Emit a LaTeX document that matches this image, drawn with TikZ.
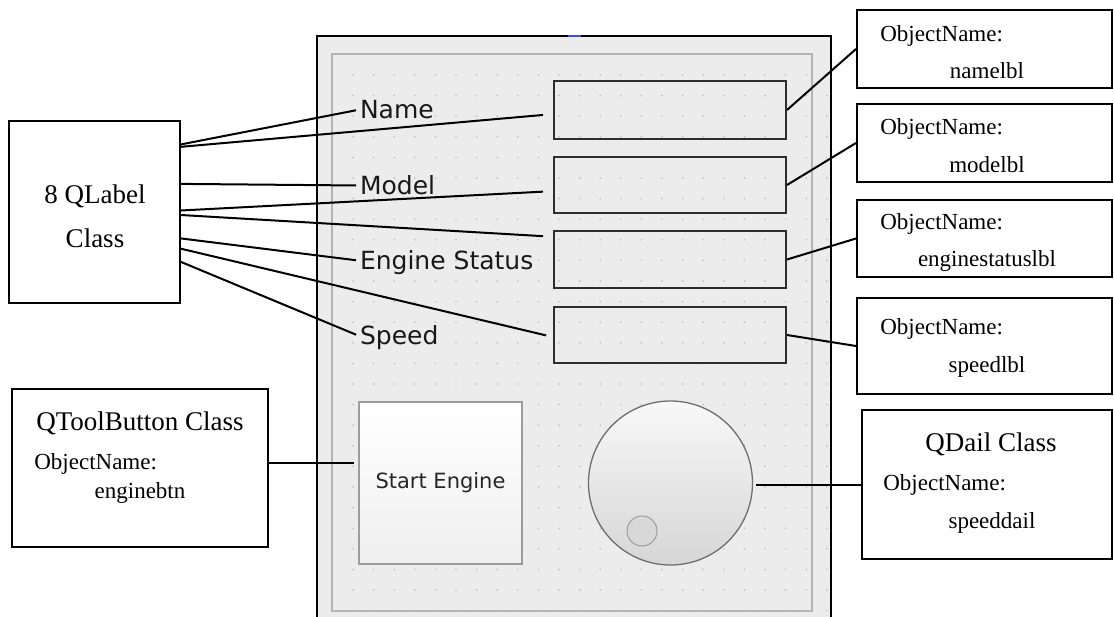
\documentclass[tikz,border=0pt]{standalone}
\usepackage{fontspec}
\setmainfont{Liberation Serif}
\newfontfamily\qtfont{DejaVu Sans}

\definecolor{formbg}{HTML}{ECECEC}
\definecolor{panelgray}{HTML}{B4B4B4}
\definecolor{dotgray}{HTML}{BDBDBD}
\definecolor{editgray}{HTML}{2E2E2E}
\definecolor{btngray}{HTML}{9C9C9C}
\definecolor{btnbottom}{HTML}{EFEFEF}
\definecolor{dialtop}{HTML}{F8F8F8}
\definecolor{dialbottom}{HTML}{D6D6D6}
\definecolor{dialedge}{HTML}{6E6E6E}
\definecolor{knobfill}{HTML}{D8D8D8}
\definecolor{knobedge}{HTML}{9E9E9E}
\definecolor{qtblue}{HTML}{3A50E0}

\begin{document}
\begin{tikzpicture}[
   x=1pt,
   y=-1pt,
   line width=2pt,
   infobox/.style={
      draw,
      inner sep=0pt,
      fill=white
   },
   title/.style={
      anchor=base,
      font=\fontsize{27}{32}\selectfont
   },
   objtext/.style={
      anchor=base,
      font=\fontsize{23}{27}\selectfont
   },
   qtlabel/.style={
      anchor=base west,
      inner sep=1pt,
      text depth=0pt,
      text=black!90,
      font=\qtfont\fontsize{25}{30}\selectfont
   },
   lineedit/.style={
      draw=editgray,
      inner sep=0pt,
      minimum width=232pt
   },
   wire/.style={
      line width=2pt
   }
]

   \useasboundingbox (0,0) rectangle (1114,617);

   % Form window
   \fill[formbg] (317,36) rectangle (831,620);
   \draw[line width=2.2pt] (317,620) -- (317,36) -- (831,36) -- (831,620);
   \draw[qtblue, line width=1.5pt] (568,36) -- (581,36);

   \draw[panelgray, line width=1.3pt] (332,54) rectangle (812,611);

   % Grid dots
   \foreach \i in {0,...,23}
      \foreach \j in {0,...,26}
         \fill[dotgray] (353+20.6*\i,75+20.6*\j) circle (0.9pt);

   % Line edits
   \node[lineedit, minimum height=58pt] (editname) at (670,110) {};
   \node[lineedit, minimum height=56pt] (editmodel) at (670,185) {};
   \node[lineedit, minimum height=57pt] (editstatus) at (670,259.5) {};
   \node[lineedit, minimum height=56pt] (editspeed) at (670,335) {};

   % Labels
   \node[qtlabel] (lblname) at (358,119) {Name};
   \node[qtlabel] (lblmodel) at (358,195) {Model};
   \node[qtlabel] (lblstatus) at (358,270) {Engine Status};
   \node[qtlabel] (lblspeed) at (358,345) {Speed};

   % Tool button
   \node[
      draw=btngray,
      line width=1.5pt,
      top color=white,
      bottom color=btnbottom,
      minimum width=163pt,
      minimum height=162pt,
      inner sep=0pt,
      text=black!85,
      font=\qtfont\fontsize{21}{25}\selectfont
   ] (startbtn) at (440.5,483)
   {
      Start Engine
   };

   % Dial
   \node[
      circle,
      draw=dialedge,
      line width=1.3pt,
      top color=dialtop,
      bottom color=dialbottom,
      minimum size=164pt,
      inner sep=0pt
   ] (dial) at (670.5,483) {};

   \node[
      circle,
      draw=knobedge,
      fill=knobfill,
      line width=1pt,
      minimum size=30pt,
      inner sep=0pt
   ] (knob) at (642,531) {};

   % QLabel class
   \node[infobox, minimum width=171pt, minimum height=182pt]
      (qlabelbox) at (94.5,212) {};

   \node[title] (qlabeltitle) at (95,204) {8 QLabel};
   \node[title] (qlabelclass) at (95,248) {Class};

   % QToolButton class
   \node[infobox, minimum width=256pt, minimum height=158pt]
      (toolbox) at (140,468) {};

   \node[title] (tooltitle) at (140,431) {QToolButton Class};
   \node[objtext, anchor=base west] (toolobj) at (30,469) {ObjectName:};
   \node[objtext] (toolname) at (140,498) {enginebtn};

   % Object names of the line edits
   \node[infobox, minimum width=255pt, minimum height=78pt]
      (objname) at (984.5,49) {};
   \node[objtext, anchor=base west] (objnamekey) at (876,42) {ObjectName:};
   \node[objtext] (objnameval) at (987,79) {namelbl};

   \node[infobox, minimum width=255pt, minimum height=78pt]
      (objmodel) at (984.5,143) {};
   \node[objtext, anchor=base west] (objmodelkey) at (876,135) {ObjectName:};
   \node[objtext] (objmodelval) at (987,173) {modelbl};

   \node[infobox, minimum width=255pt, minimum height=77pt]
      (objstatus) at (984.5,238.5) {};
   \node[objtext, anchor=base west] (objstatuskey) at (876,230) {ObjectName:};
   \node[objtext] (objstatusval) at (987,267) {enginestatuslbl};

   \node[infobox, minimum width=255pt, minimum height=96pt]
      (objspeed) at (984.5,346) {};
   \node[objtext, anchor=base west] (objspeedkey) at (876,335) {ObjectName:};
   \node[objtext] (objspeedval) at (987,373) {speedlbl};

   % QDail class
   \node[infobox, minimum width=250pt, minimum height=149pt]
      (dialbox) at (987,484.5) {};

   \node[title] (dialtitle) at (991,452) {QDail Class};
   \node[objtext, anchor=base west] (dialobj) at (879,490) {ObjectName:};
   \node[objtext] (dialname) at (992,528) {speeddail};

   % QLabel class to labels and line edits
   \draw[wire, shorten >=2pt] (qlabelbox.38) -- (lblname.west);
   \draw[wire, shorten >=10pt] (qlabelbox.37) -- (editname.182);
   \draw[wire, shorten >=2pt] (qlabelbox.18) -- (lblmodel.west);
   \draw[wire, shorten >=10pt] (qlabelbox.1) -- (editmodel.183);
   \draw[wire, shorten >=10pt] (qlabelbox.-2) -- (editstatus.169);
   \draw[wire, shorten >=2pt] (qlabelbox.-17.5) -- (lblstatus.west);
   \draw[wire, shorten >=7pt] (qlabelbox.-23.4) -- (editspeed.181);
   \draw[wire, shorten >=2pt] (qlabelbox.-30) -- (lblspeed.west);

   % Line edits to object names
   \draw[wire] (editname.east) -- (objname.west);
   \draw[wire] (editmodel.east) -- (objmodel.west);
   \draw[wire] (editstatus.east) -- (objstatus.west);
   \draw[wire] (editspeed.east) -- (objspeed.west);

   % Button and dial
   \draw[wire, shorten >=4pt] (toolbox.2) -- (toolbox.2 -| startbtn.west);
   \draw[wire, shorten <=3pt] (dialbox.west -| dial.east) -- (dialbox.west);

\end{tikzpicture}
\end{document}
